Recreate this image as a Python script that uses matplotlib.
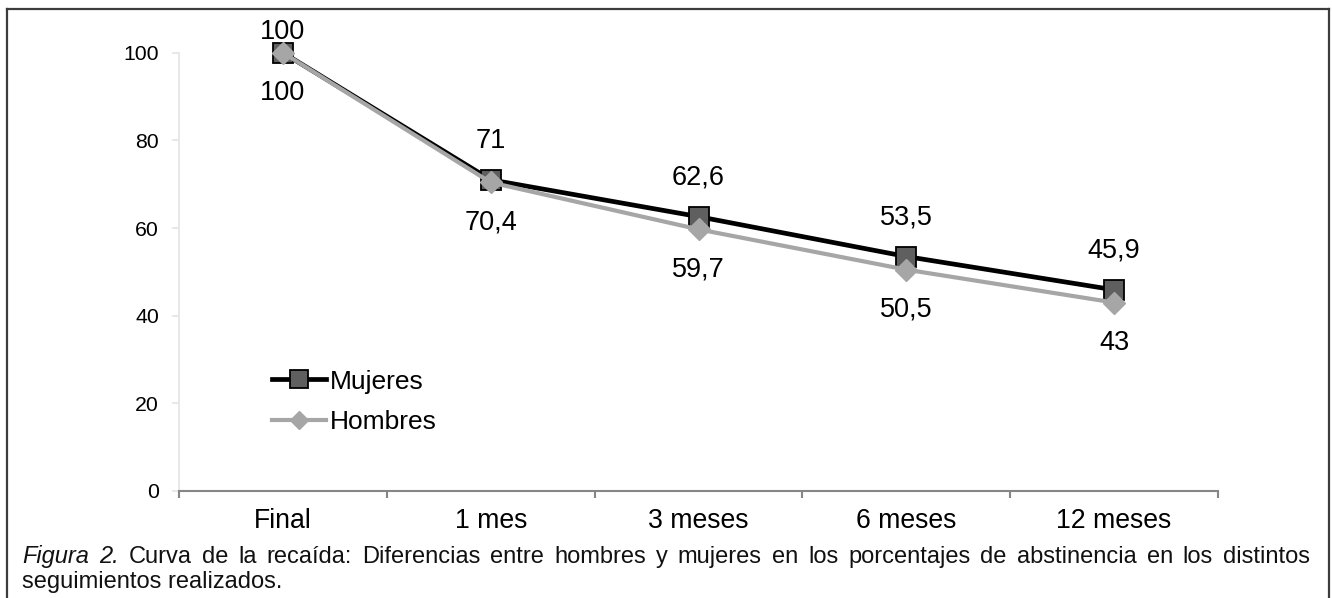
import matplotlib
matplotlib.use('Agg')
import matplotlib.pyplot as plt
from matplotlib.lines import Line2D

# ---- data ----
categories = ['Final', '1 mes', '3 meses', '6 meses', '12 meses']
mujeres = [100, 71, 62.6, 53.5, 45.9]
hombres = [100, 70.4, 59.7, 50.5, 43]
y_ticks = [0, 20, 40, 60, 80, 100]
series_names = ['Mujeres', 'Hombres']
caption_line1 = 'Figura 2. Curva de la recaída: Diferencias entre hombres y mujeres en los porcentajes de abstinencia en los distintos'
caption_line2 = 'seguimientos realizados.'
italic_words = 2  # "Figura 2."

plt.rcParams['font.family'] = ['Liberation Sans', 'DejaVu Sans']

W, H = 1332, 598
fig = plt.figure(figsize=(W / 100, H / 100), dpi=100)
fig.patch.set_facecolor('white')

def fx(px):
    return px / W

def fy(py):
    return 1 - py / H

ax_left, ax_right, ax_top, ax_bottom = 179, 1218, 52.7, 491
ax = fig.add_axes([fx(ax_left), fy(ax_bottom), fx(ax_right - ax_left), (ax_bottom - ax_top) / H])

x = list(range(len(categories)))
ax.plot(x, mujeres, color='black', lw=3.4, marker='s', ms=14.5, mfc='#5f5f5f',
        mec='black', mew=1.3, clip_on=False, zorder=3, label=series_names[0])
ax.plot(x, hombres, color='#a6a6a6', lw=3.0, marker='D', ms=11, mfc='#a6a6a6',
        mec='#a6a6a6', mew=1.0, clip_on=False, zorder=4, label=series_names[1])

ax.set_xlim(-0.5, len(categories) - 0.5)
ax.set_ylim(0, 100)

def fmt(v):
    return ('%g' % v).replace('.', ',')

lab_fs = 19.5
for i, v in enumerate(mujeres):
    off = 21 if i == 0 else 39
    ax.annotate(fmt(v), (i, v), xytext=(0, off), textcoords='offset pixels',
                ha='center', va='center', fontsize=lab_fs, zorder=5, annotation_clip=False)
for i, v in enumerate(hombres):
    ax.annotate(fmt(v), (i, v), xytext=(0, -40), textcoords='offset pixels',
                ha='center', va='center', fontsize=lab_fs, zorder=5, annotation_clip=False)

for s in ['top', 'right']:
    ax.spines[s].set_visible(False)
ax.spines['left'].set_color('#e4e4e4')
ax.spines['left'].set_linewidth(1.2)
ax.spines['bottom'].set_color('#868686')
ax.spines['bottom'].set_linewidth(1.5)

ax.set_xticks(x)
ax.set_xticklabels(categories)
ax.set_xticks([i - 0.5 for i in range(len(categories) + 1)], minor=True)
ax.tick_params(axis='x', which='major', length=0, labelsize=19.2, pad=12)
ax.tick_params(axis='x', which='minor', length=5, width=1.5, color='#868686', direction='out')
ax.set_yticks(y_ticks)
ax.tick_params(axis='y', which='major', length=5, width=1.2, color='#e4e4e4', labelsize=15.3, pad=9.5)

leg = ax.legend(loc='center left', bbox_to_anchor=(fx(272), fy(402)), bbox_transform=fig.transFigure,
                frameon=False, fontsize=19, handlelength=2.05, handletextpad=0.15,
                borderpad=0, borderaxespad=0, labelspacing=0.64, numpoints=1)
for h in leg.legend_handles:
    h.set_markersize(h.get_markersize() * 0.85)

# ---- border ----
bc = '#3c3c3c'
fig.add_artist(Line2D([fx(7), fx(7)], [0, fy(9)], transform=fig.transFigure, color=bc, lw=1.6))
fig.add_artist(Line2D([fx(7), fx(1328.5)], [fy(9), fy(9)], transform=fig.transFigure, color=bc, lw=1.6))
fig.add_artist(Line2D([fx(1328.5), fx(1328.5)], [fy(9), 0], transform=fig.transFigure, color=bc, lw=1.6))

# ---- caption (justified first line) ----
renderer = fig.canvas.get_renderer()
cap_fs = 17.0
x0, x1 = 22, 1310
words = caption_line1.split(' ')
texts = []
widths = []
for k, wd in enumerate(words):
    t = fig.text(0, fy(563), wd, fontsize=cap_fs, ha='left', va='baseline',
                 style='italic' if k < italic_words else 'normal', color='#111111')
    texts.append(t)
    widths.append(t.get_window_extent(renderer).width)
gap = (x1 - x0 - sum(widths)) / (len(words) - 1)
pos = x0
for t, w in zip(texts, widths):
    t.set_x(fx(pos))
    pos += w + gap
fig.text(fx(x0), fy(588), caption_line2, fontsize=cap_fs, ha='left', va='baseline', color='#111111')

fig.savefig('out.png', dpi=100)
